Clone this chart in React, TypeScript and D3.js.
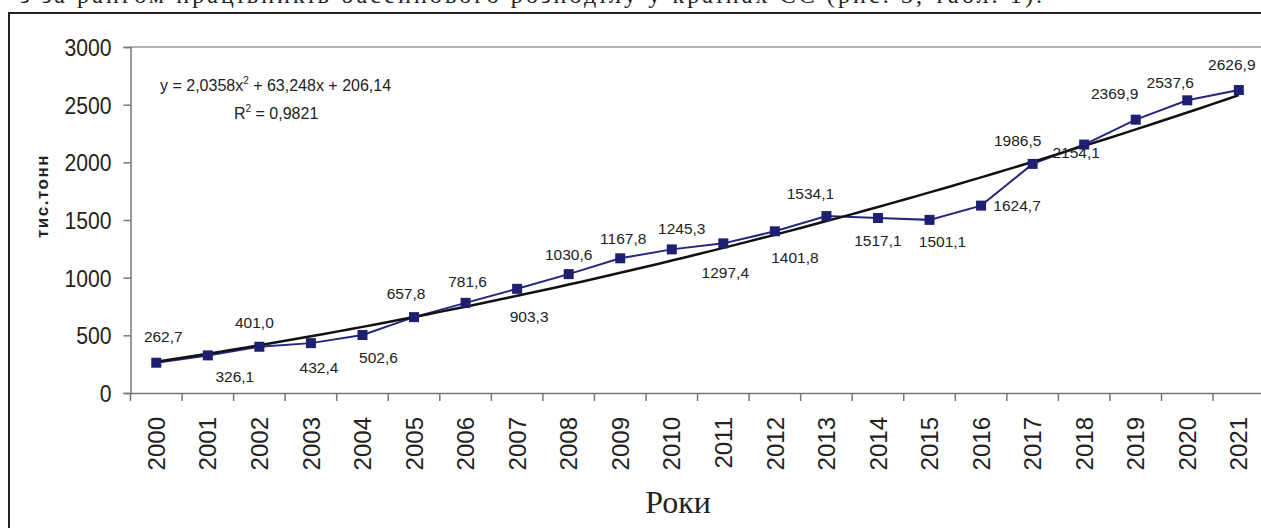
import * as d3 from "d3";
import { useRef, useEffect } from "react";

const years = [
  "2000", "2001", "2002", "2003", "2004", "2005", "2006", "2007", "2008", "2009", "2010",
  "2011", "2012", "2013", "2014", "2015", "2016", "2017", "2018", "2019", "2020", "2021",
];
const values = [
  262.7, 326.1, 401.0, 432.4, 502.6, 657.8, 781.6, 903.3, 1030.6, 1167.8, 1245.3,
  1297.4, 1401.8, 1534.1, 1517.1, 1501.1, 1624.7, 1986.5, 2154.1, 2369.9, 2537.6, 2626.9,
];
const yTicks = [0, 500, 1000, 1500, 2000, 2500, 3000];
// polynomial trend line as printed on the chart: y = a*x^2 + b*x + c
const trendCoef = [2.0358, 63.248, 206.14];

// label placement relative to each point (dx, dy of the label centre)
const labelOffsets = [
  [7, -26], [27, 21], [-5, -24], [8, 24], [16, 22], [-8, -24], [2, -21], [12, 28],
  [0, -20], [3, -20], [10, -21], [2, 29], [20, 26], [-16, -23], [0, 22], [13, 22],
  [36, 0], [-15, -23], [-8, 8], [-21, -26], [-17, -18], [-7, -26],
];

const W = 1261;
const H = 528;
const margin = { left: 130.5, top: 47, bottom: 393 };
const band = 51.55;

export default function App() {
  const gx = useRef(null);
  const gy = useRef(null);

  const x = d3
    .scaleBand()
    .domain(years)
    .range([margin.left, margin.left + band * years.length])
    .padding(0);
  const y = d3.scaleLinear().domain([0, 3000]).range([margin.bottom, margin.top]);
  const cx = (i) => x(years[i]) + x.bandwidth() / 2;

  const fmt = (v) => d3.format(".1f")(v).replace(".", ",");

  // trend line sampled along the year index (1..22)
  const trendPts = d3.range(1, years.length + 0.001, 0.25).map((t) => {
    const v = trendCoef[0] * t * t + trendCoef[1] * t + trendCoef[2];
    const px = cx(0) + (t - 1) * x.step();
    return [px, y(v)];
  });
  const trendLine = d3.line()(trendPts);
  const dataLine = d3
    .line()
    .x((d, i) => cx(i))
    .y((d) => y(d))(values);

  useEffect(() => {
    const yAxis = d3
      .axisLeft(y)
      .tickValues(yTicks)
      .tickSize(7)
      .tickPadding(12)
      .tickFormat(d3.format("d"));
    d3.select(gy.current)
      .call(yAxis)
      .call((g) => g.select(".domain").attr("stroke", "#777").attr("stroke-width", 1.5))
      .call((g) => g.selectAll(".tick line").attr("stroke", "#777").attr("stroke-width", 1.5))
      .call((g) =>
        g
          .selectAll(".tick text")
          .attr("font-family", "Liberation Sans, Arial, sans-serif")
          .attr("font-size", 24)
          .attr("fill", "#222")
          .attr("dy", "0.35em")
          .attr("transform", "scale(0.88,1)")
          .attr("x", -19 / 0.88)
      );

    const xAxis = d3.axisBottom(x).tickSize(0).tickSizeOuter(0);
    d3.select(gx.current)
      .call(xAxis)
      .call((g) => g.select(".domain").attr("stroke", "#777").attr("stroke-width", 1.5))
      .call((g) =>
        g
          .selectAll(".tick text")
          .attr("font-family", "Liberation Sans, Arial, sans-serif")
          .attr("font-size", 24)
          .attr("fill", "#222")
          .attr("text-anchor", "end")
          .attr("transform", "rotate(-90)")
          .attr("x", -24)
          .attr("y", 0)
          .attr("dy", "0.36em")
      );
    // tick marks on category boundaries
    const g = d3.select(gx.current);
    g.selectAll("line.bound")
      .data(d3.range(years.length + 1))
      .join("line")
      .attr("class", "bound")
      .attr("x1", (i) => margin.left + i * x.step())
      .attr("x2", (i) => margin.left + i * x.step())
      .attr("y1", 0)
      .attr("y2", 8)
      .attr("stroke", "#777")
      .attr("stroke-width", 1.5);
  });

  return (
    <svg
      width={W}
      height={H}
      style={{ position: "absolute", left: 0, top: 0, background: "#fff" }}
    >
      <text
        x={20}
        y={3}
        fontFamily="Liberation Serif, Times New Roman, serif"
        fontSize={24}
        fill="#222"
        textLength={1022}
      >
        з      за рангом працівників басейнового розподілу у     країнах ЄС (рис. 3, табл. 1).
      </text>
      <rect x={9} y={13} width={W + 20} height={H + 20} fill="#fff" stroke="#222" strokeWidth={2} />
      <line x1={margin.left} x2={W + 10} y1={y(3000)} y2={y(3000)} stroke="#999" strokeWidth={1.5} />

      <text
        transform={`translate(42, 196) rotate(-90)`}
        textAnchor="middle"
        dominantBaseline="central"
        fontFamily="Liberation Sans, Arial, sans-serif"
        fontWeight="bold"
        fontSize={17}
        letterSpacing={1.5}
        fill="#222"
      >
        тис.тонн
      </text>

      <g ref={gy} transform={`translate(${margin.left},0)`} />
      <g ref={gx} transform={`translate(0,${margin.bottom})`} />

      <path d={dataLine} fill="none" stroke="#26267e" strokeWidth={2} />
      <path d={trendLine} fill="none" stroke="#111" strokeWidth={2.5} />
      {values.map((v, i) => (
        <rect key={years[i]} x={cx(i) - 5} y={y(v) - 5} width={10} height={10} fill="#1f1f72" />
      ))}
      {values.map((v, i) => (
        <text
          key={"l" + years[i]}
          x={cx(i) + labelOffsets[i][0]}
          y={y(v) + labelOffsets[i][1]}
          textAnchor="middle"
          dominantBaseline="central"
          fontFamily="Liberation Sans, Arial, sans-serif"
          fontSize={15.5}
          fill="#222"
        >
          {fmt(v)}
        </text>
      ))}

      <g fontFamily="Liberation Sans, Arial, sans-serif" fontSize={16} fill="#222">
        <text x={160} y={91}>
          y = 2,0358x<tspan dy={-7} fontSize={10}>2</tspan>
          <tspan dy={7}> + 63,248x + 206,14</tspan>
        </text>
        <text x={234} y={119}>
          R<tspan dy={-7} fontSize={10}>2</tspan>
          <tspan dy={7}> = 0,9821</tspan>
        </text>
      </g>

      <text
        x={678}
        y={513}
        textAnchor="middle"
        fontFamily="Liberation Serif, Times New Roman, serif"
        fontSize={32}
        fill="#222"
      >
        Роки
      </text>
    </svg>
  );
}
